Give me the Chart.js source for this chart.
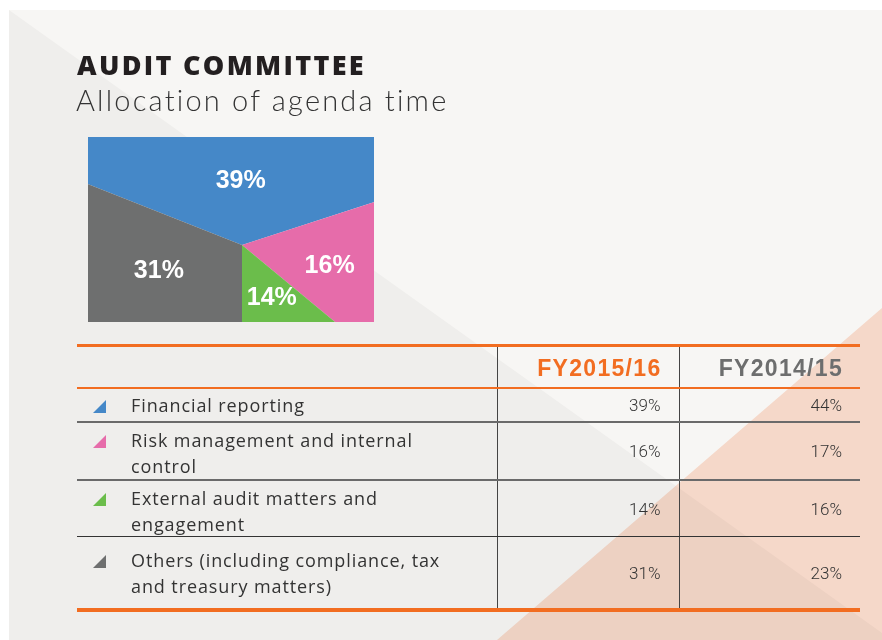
<!DOCTYPE html>
<html>
<head>
<meta charset="utf-8">
<script src="https://cdn.jsdelivr.net/npm/chart.js@4/dist/chart.umd.min.js"></script>
<style>
  body { margin: 0; width: 882px; height: 640px; background: #fff; position: relative; overflow: hidden; }
  #panel { position: absolute; left: 9px; top: 10px; width: 873px; height: 630px; background: #f7f6f4; }
  #panel svg { position: absolute; left: 0; top: 0; }
  .title { position: absolute; left: 77px; top: 46px; font: 800 27px "Open Sans", sans-serif; letter-spacing: 2.3px; color: #231f20; }
  .subtitle { position: absolute; left: 76px; top: 82px; font: 300 29px "Lato", "Open Sans", sans-serif; letter-spacing: 2.2px; color: #333; }
  #pieBox { position: absolute; left: 88px; top: 137px; width: 286px; height: 185px; overflow: hidden; }
  #pieBox canvas { position: absolute; left: -46px; top: -92px; }
  .tbl { position: absolute; left: 77px; top: 344px; width: 783px; border-top: 3px solid #f26d21; border-bottom: 4px solid #f26d21; }
  .row { display: flex; border-bottom: 2px solid #6a6a6a; }
  .row.head { height: 40px; border-bottom: 2px solid #f26d21; }
  .cell { box-sizing: border-box; }
  .c0 { width: 420px; position: relative; }
  .c1, .c2 { width: 181.5px; border-left: 1px solid #444; display: flex; align-items: center; justify-content: flex-end; padding-right: 18px;
             font: 300 17px Roboto, sans-serif; color: #333; }
  .head .c1, .head .c2 { font: 700 23px "Liberation Sans", Arial, sans-serif; letter-spacing: 1.3px; align-items: flex-end; padding-bottom: 5px; padding-right: 17px; }
  .label { position: absolute; left: 54px; width: 340px; font: 400 18px "Open Sans", sans-serif; letter-spacing: 0.9px; line-height: 26px; color: #333; }
  .icon { position: absolute; left: 16px; width: 13px; height: 13px; clip-path: polygon(0 100%, 100% 100%, 100% 0); }
</style>
</head>
<body>
<div id="panel">
  <svg width="873" height="630">
    <polygon points="0,0 873,623 873,630 0,630" fill="#efeeec"/>
    <polygon points="873,298 873,630 488,630" fill="#fde0d2" style="mix-blend-mode:multiply"/>
  </svg>
</div>
<div class="title">AUDIT COMMITTEE</div>
<div class="subtitle">Allocation of agenda time</div>
<div id="pieBox"><canvas id="pie" width="400" height="400"></canvas></div>
<div class="tbl" id="tbl"></div>
<script>
const categories = [
  'Financial reporting',
  'Risk management and internal control',
  'External audit matters and engagement',
  'Others (including compliance, tax and treasury matters)'
];
const fy2016 = [39, 16, 14, 31];
const fy2015 = [44, 17, 16, 23];
const columnLabels = ['FY2015/16', 'FY2014/15'];

const sliceColors = ['#4588c8', '#e66caa', '#6bbd4b', '#6e6f6f'];
const headColors = ['#f26d21', '#6d6e6e'];
// label placement: radius (px) and angle nudge (deg) from each slice's middle
const labelRadius = [64, 90, 61, 87];
const labelNudge = [-3, 2.5, -4, 17];
const rowHeights = [32, 56, 55, 71];
const rowPadTop = [3, 4, 4, 10];
const rowBorders = ['2px solid #6a6a6a', '2px solid #6a6a6a', '1px solid #333', 'none'];

// last slice starts pointing straight down
const before = fy2016.slice(0, -1).reduce((a, b) => a + b, 0);
const total = fy2016.reduce((a, b) => a + b, 0);
const rotation = 180 - before / total * 360;

const sliceLabels = {
  id: 'sliceLabels',
  afterDatasetsDraw(chart) {
    const ctx = chart.ctx;
    const arcs = chart.getDatasetMeta(0).data;
    ctx.save();
    ctx.fillStyle = '#fff';
    ctx.font = 'bold 25px "Liberation Sans", Arial, sans-serif';
    ctx.textAlign = 'center';
    ctx.textBaseline = 'middle';
    arcs.forEach((arc, i) => {
      const p = arc.getProps(['x', 'y', 'startAngle', 'endAngle']);
      const a = (p.startAngle + p.endAngle) / 2 + labelNudge[i] * Math.PI / 180;
      ctx.fillText(fy2016[i] + '%', p.x + Math.cos(a) * labelRadius[i], p.y + Math.sin(a) * labelRadius[i]);
    });
    ctx.restore();
  }
};

new Chart(document.getElementById('pie').getContext('2d'), {
  type: 'pie',
  data: {
    labels: categories,
    datasets: [{
      data: fy2016,
      backgroundColor: sliceColors,
      borderWidth: 0
    }]
  },
  options: {
    responsive: false,
    animation: false,
    devicePixelRatio: 1,
    rotation: rotation,
    layout: { padding: 0 },
    plugins: { legend: { display: false }, tooltip: { enabled: false } }
  },
  plugins: [sliceLabels]
});

const tbl = document.getElementById('tbl');
let html = '<div class="row head"><div class="cell c0"></div>';
columnLabels.forEach((c, j) => {
  html += `<div class="cell c${j + 1}" style="color:${headColors[j]}">${c}</div>`;
});
html += '</div>';
categories.forEach((cat, i) => {
  html += `<div class="row" style="height:${rowHeights[i]}px;border-bottom:${rowBorders[i]}">
    <div class="cell c0">
      <div class="icon" style="background:${sliceColors[i]};top:${rowPadTop[i] + 8}px"></div>
      <div class="label" style="top:${rowPadTop[i]}px">${cat}</div>
    </div>
    <div class="cell c1">${fy2016[i]}%</div>
    <div class="cell c2">${fy2015[i]}%</div>
  </div>`;
});
tbl.innerHTML = html;
</script>
</body>
</html>
